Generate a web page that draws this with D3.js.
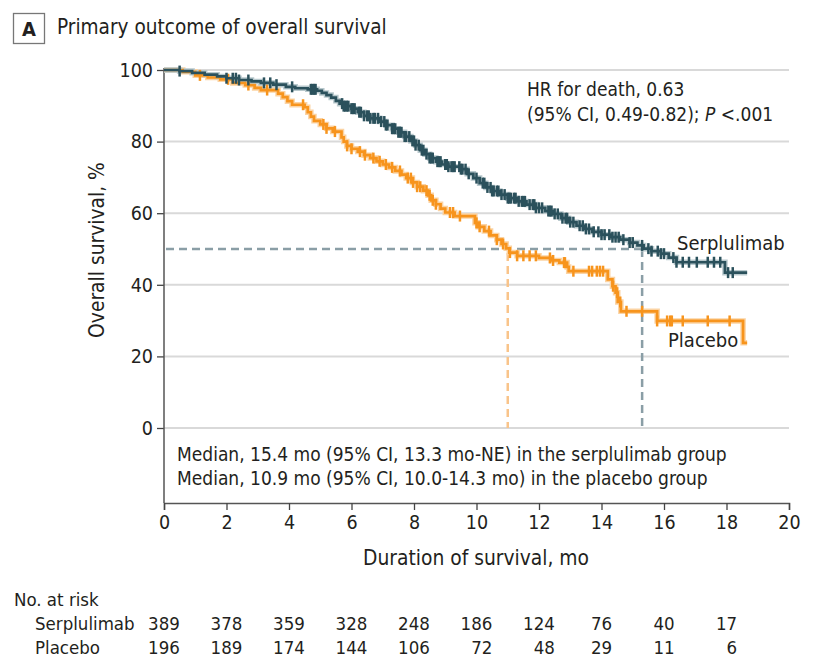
<!DOCTYPE html>
<html><head><meta charset="utf-8">
<script src="https://cdn.jsdelivr.net/npm/d3@7/dist/d3.min.js"></script>
<style>
body{margin:0;background:#fff;}
svg text{font-family:"Liberation Sans Narrow","DejaVu Sans Condensed","Roboto",sans-serif;fill:#231f20;}
</style></head><body>
<svg id="c" width="814" height="671"></svg>
<script>
// ---------- data ----------
const xTicks = [0,2,4,6,8,10,12,14,16,18,20];
const yTicks = [0,20,40,60,80,100];
const seriesNames = ["Serplulimab","Placebo"];
// Kaplan-Meier knots: [time (mo), survival % after step]
const serplulimabSteps = [[0,100],[0.5,99.7],[0.9,99.2],[1.3,98.7],[1.7,98.2],[2.0,97.7],[2.4,97.2],[2.8,96.8],[3.1,96.4],[3.5,95.9],[3.9,95.3],[4.2,94.9],[4.6,94.6],[4.9,94.2],[5.05,93.6],[5.2,93.0],[5.35,92.3],[5.5,91.4],[5.62,90.6],[5.75,89.9],[6.0,89.2],[6.2,88.2],[6.4,87.2],[6.6,86.5],[6.9,85.6],[7.1,84.6],[7.3,83.6],[7.5,82.6],[7.7,81.4],[7.9,80.2],[8.05,79.0],[8.2,77.6],[8.35,76.5],[8.5,75.4],[8.7,74.4],[8.9,73.6],[9.1,73.0],[9.5,72.3],[9.7,71.0],[9.9,69.8],[10.1,68.4],[10.3,67.2],[10.5,66.2],[10.75,65.2],[11.0,64.2],[11.3,63.3],[11.6,62.4],[11.9,61.5],[12.2,60.6],[12.45,59.8],[12.7,58.6],[12.95,57.5],[13.2,56.5],[13.45,55.6],[13.7,54.8],[14.0,54.0],[14.3,53.3],[14.6,52.6],[14.9,51.8],[15.15,51.0],[15.35,50.1],[15.6,49.4],[15.9,48.7],[16.15,47.6],[16.4,46.3],[17.95,43.4]];
const serplulimabEnd = 18.66;
const serplulimabCensor = [0.5,2.0,2.2,2.3,2.4,2.7,3.2,3.4,3.6,4.1,4.7,4.75,4.8,4.85,5.7,5.75,5.8,5.85,5.9,6.0,6.05,6.1,6.25,6.3,6.4,6.5,6.55,6.6,6.7,6.75,6.85,6.95,7.05,7.1,7.15,7.3,7.35,7.4,7.5,7.55,7.6,7.7,7.75,7.85,7.95,8.0,8.05,8.15,8.25,8.3,8.4,8.5,8.55,8.6,8.75,8.8,8.85,9.0,9.05,9.1,9.2,9.25,9.3,9.45,9.5,9.55,9.65,9.75,10.0,10.2,10.25,10.35,10.45,10.5,10.55,10.65,10.7,10.8,10.9,11.0,11.05,11.1,11.2,11.25,11.35,11.45,11.5,11.55,11.7,11.8,11.85,11.9,12.0,12.1,12.3,12.35,12.4,12.5,12.6,12.75,12.85,12.9,13.0,13.1,13.3,13.4,13.5,13.6,13.75,13.9,14.0,14.1,14.25,14.35,14.45,14.55,14.7,14.9,15.0,15.3,15.5,15.6,15.8,15.9,16.0,16.3,16.4,16.6,16.8,17.05,17.4,17.6,17.8,18.05,18.2];
const placeboSteps = [[0,100],[0.6,99.5],[1.0,98.5],[1.4,97.9],[1.8,97.4],[2.2,96.4],[2.6,95.8],[2.9,95.0],[3.1,94.4],[3.65,93.4],[3.8,92.4],[3.95,91.3],[4.1,90.3],[4.5,89.6],[4.6,88.2],[4.7,87.0],[4.8,85.8],[5.0,84.8],[5.2,83.7],[5.4,82.8],[5.68,81.2],[5.75,80.0],[5.85,78.8],[6.0,78.0],[6.2,77.2],[6.4,76.2],[6.6,75.4],[6.8,74.5],[7.0,73.6],[7.2,72.8],[7.4,71.8],[7.6,70.8],[7.75,69.8],[7.95,68.6],[8.1,67.4],[8.3,66.3],[8.45,65.0],[8.55,63.6],[8.7,62.5],[8.85,61.3],[9.0,60.2],[9.3,59.2],[9.95,57.3],[10.05,56.2],[10.25,55.0],[10.45,53.8],[10.65,52.6],[10.8,51.4],[10.95,50.2],[11.05,49.0],[11.3,48.1],[12.0,47.5],[12.4,46.8],[12.65,46.2],[12.9,45.0],[12.95,43.8],[14.2,41.5],[14.35,39.6],[14.45,37.8],[14.52,35.2],[14.62,32.6],[15.78,29.9],[18.53,23.8]];
const placeboEnd = 18.66;
const placeboCensor = [1.15,2.05,2.7,3.3,4.45,5.1,5.2,5.47,5.86,6.0,6.27,6.43,6.7,6.9,7.1,7.3,7.55,7.8,7.9,7.97,8.1,8.2,8.4,8.5,8.6,8.7,9.15,9.25,9.47,10.0,10.1,10.4,10.65,10.85,11.07,11.3,11.5,11.7,11.9,12.35,12.45,12.8,12.83,13.1,13.6,13.7,13.85,13.95,14.05,14.37,14.5,14.6,14.8,15.3,15.78,16.1,16.2,16.25,16.6,17.4,18.1];
const medians = [15.3, 11.0];
const riskTimes = [0,2,4,6,8,10,12,14,16,18];
const serplulimabRisk = [389,378,359,328,248,186,124,76,40,17];
const placeboRisk = [196,189,174,144,106,72,48,29,11,6];

// ---------- drawing ----------
const svg = d3.select("#c");
const x = d3.scaleLinear().domain([0,20]).range([164,789]);
const y = d3.scaleLinear().domain([0,100]).range([428,70]);
const axisY = 503;
const colors = {"Serplulimab":"#2b515c","Placebo":"#f7941d"};
const halo = {"Serplulimab":"#b9c9cd","Placebo":"#fbd3a3"};

// title
svg.append("rect").attr("x",13.5).attr("y",13.5).attr("width",31).attr("height",30).attr("fill","none").attr("stroke","#777").attr("stroke-width",1.3);
svg.append("text").attr("x",29).attr("y",36).attr("text-anchor","middle").attr("font-weight","bold").attr("font-size",20).text("A");
svg.append("text").attr("x",57).attr("y",34).attr("font-size",20.6).text("Primary outcome of overall survival");

// grid
svg.append("g").selectAll("line").data(yTicks).join("line")
  .attr("x1",x(0)).attr("x2",x(20)).attr("y1",d=>y(d)).attr("y2",d=>y(d))
  .attr("stroke","#d9d9d9").attr("stroke-width",2);

// y axis
const gy = svg.append("g").attr("transform",`translate(${x(0)},0)`)
  .call(d3.axisLeft(y).tickValues(yTicks).tickSize(7).tickPadding(4));
gy.select(".domain").remove();
gy.selectAll(".tick line").attr("stroke","#444").attr("stroke-width",1.3);
gy.selectAll(".tick text").attr("font-size",19.5).style("font-family",null).attr("fill","#231f20");
svg.append("line").attr("x1",x(0)).attr("x2",x(0)).attr("y1",y(100)-2).attr("y2",axisY).attr("stroke","#555").attr("stroke-width",1.5);

// x axis
const gx = svg.append("g").attr("transform",`translate(0,${axisY})`)
  .call(d3.axisBottom(x).tickValues(xTicks).tickSize(7).tickPadding(5));
gx.select(".domain").attr("stroke","#555").attr("stroke-width",1.5);
gx.selectAll(".tick line").attr("stroke","#444").attr("stroke-width",1.3);
gx.selectAll(".tick text").attr("font-size",19.5).attr("fill","#231f20");

// axis titles
svg.append("text").attr("x",476).attr("y",565).attr("text-anchor","middle").attr("font-size",20.8).text("Duration of survival, mo");
svg.append("text").attr("transform","translate(104,250) rotate(-90)").attr("text-anchor","middle").attr("font-size",20.8).text("Overall survival, %");

// median reference lines
svg.append("line").attr("x1",x(0)+2).attr("x2",x(medians[0])).attr("y1",y(50)).attr("y2",y(50))
  .attr("stroke","#8a9ea6").attr("stroke-width",2.5).attr("stroke-dasharray","8,5");
svg.append("line").attr("x1",x(medians[0])).attr("x2",x(medians[0])).attr("y1",y(50)).attr("y2",y(0))
  .attr("stroke","#8a9ea6").attr("stroke-width",2.5).attr("stroke-dasharray","8,5");
svg.append("line").attr("x1",x(medians[1])).attr("x2",x(medians[1])).attr("y1",y(50)+4).attr("y2",y(0))
  .attr("stroke","#f9c48a").attr("stroke-width",2.5).attr("stroke-dasharray","8,5");

// curves
function stepVal(steps,t){let v=steps[0][1];for(const s of steps){if(s[0]<=t)v=s[1];else break;}return v;}
const line = d3.line().x(d=>x(d[0])).y(d=>y(d[1])).curve(d3.curveStepAfter);
const series = [
  {name:"Placebo",steps:placeboSteps,end:placeboEnd,censor:placeboCensor},
  {name:"Serplulimab",steps:serplulimabSteps,end:serplulimabEnd,censor:serplulimabCensor}
];
series.forEach(s=>{
  const pts = s.steps.concat([[s.end, s.steps[s.steps.length-1][1]]]);
  svg.append("path").datum(pts).attr("d",line).attr("fill","none").attr("stroke",halo[s.name]).attr("stroke-width",5.5).attr("stroke-linejoin","miter");
});
series.forEach(s=>{
  const pts = s.steps.concat([[s.end, s.steps[s.steps.length-1][1]]]);
  svg.append("path").datum(pts).attr("d",line).attr("fill","none").attr("stroke",colors[s.name]).attr("stroke-width",2.7);
  svg.append("g").selectAll("line").data(s.censor).join("line")
    .attr("x1",d=>x(d)).attr("x2",d=>x(d))
    .attr("y1",d=>y(stepVal(s.steps,d))-5.5).attr("y2",d=>y(stepVal(s.steps,d))+5.5)
    .attr("stroke",colors[s.name]).attr("stroke-width",2.5);
});

// series labels
svg.append("text").attr("x",677).attr("y",250).attr("font-size",20).text(seriesNames[0]);
svg.append("text").attr("x",668).attr("y",347).attr("font-size",20).text(seriesNames[1]);

// HR annotation
svg.append("text").attr("x",527).attr("y",96).attr("font-size",19).text("HR for death, 0.63");
const hr2 = svg.append("text").attr("x",527).attr("y",121).attr("font-size",19);
hr2.append("tspan").text("(95% CI, 0.49-0.82); ");
hr2.append("tspan").attr("font-style","italic").text("P");
hr2.append("tspan").text(" <.001");

// median text
svg.append("text").attr("x",177).attr("y",461).attr("font-size",19).text("Median, 15.4 mo (95% CI, 13.3 mo-NE) in the serplulimab group");
svg.append("text").attr("x",177).attr("y",485).attr("font-size",19).text("Median, 10.9 mo (95% CI, 10.0-14.3 mo) in the placebo group");

// number at risk
svg.append("text").attr("x",14).attr("y",606).attr("font-size",18.5).text("No. at risk");
const rows = [{name:"Serplulimab",vals:serplulimabRisk,yy:630},{name:"Placebo",vals:placeboRisk,yy:654}];
rows.forEach(r=>svg.append("text").attr("x",35).attr("y",r.yy).attr("font-size",18.5).text(r.name));
const riskG = svg.append("g");
riskTimes.forEach((t,i)=>{
  const texts = rows.map(r=>riskG.append("text").attr("y",r.yy).attr("font-size",18.5).attr("text-anchor","end").text(r.vals[i]));
  const w = Math.max(...texts.map(tx=>tx.node().getComputedTextLength()));
  texts.forEach(tx=>tx.attr("x",x(t)+w/2));
});
</script>
</body></html>
